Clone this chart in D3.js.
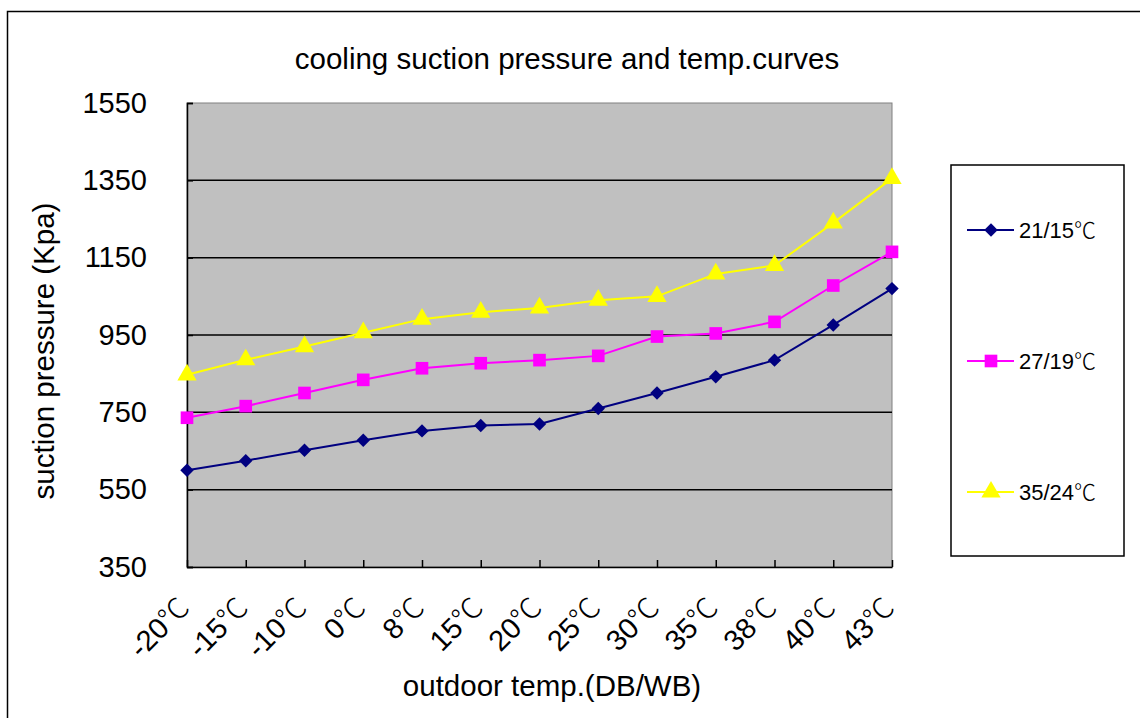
<!DOCTYPE html>
<html>
<head>
<meta charset="utf-8">
<script src="https://cdn.jsdelivr.net/npm/d3@7/dist/d3.min.js"></script>
<style>
  html, body { margin: 0; padding: 0; background: #ffffff; }
  svg { display: block; }
  text { font-family: "Liberation Sans", Arial, "Noto Sans CJK SC", sans-serif; fill: #000; }
  .deg { font-family: "Noto Sans CJK SC", "Noto Sans CJK JP", sans-serif; font-weight: 300; }
</style>
</head>
<body>
<svg id="chart" width="1140" height="718"></svg>
<script>
// ---- data ----
const categories = ["-20℃", "-15℃", "-10℃", "0℃", "8℃", "15℃", "20℃", "25℃", "30℃", "35℃", "38℃", "40℃", "43℃"];
const seriesNames = ["21/15℃", "27/19℃", "35/24℃"];
const series1 = [600, 625, 652, 678, 702, 716, 720, 760, 800, 842, 885, 976, 1070];
const series2 = [736, 766, 800, 834, 864, 877, 885, 896, 946, 954, 984, 1078, 1165];
const series3 = [847, 886, 920, 956, 991, 1009, 1020, 1040, 1050, 1108, 1130, 1240, 1355];
const yTicks = [350, 550, 750, 950, 1150, 1350, 1550];
const titleText = "cooling suction pressure and temp.curves";
const xTitle = "outdoor temp.(DB/WB)";
const yTitle = "suction pressure (Kpa)";

// ---- layout ----
const svg = d3.select("#chart");
const L = 187, T = 103, R = 892, B = 567;
const colors = ["#000080", "#FF00FF", "#FFFF00"];
const shapes = [d3.symbolDiamond2, d3.symbolSquare, d3.symbolTriangle];
const symSizes = [115, 160, 160];

const x = d3.scalePoint().domain(categories).range([L, R]).padding(0);
const y = d3.scaleLinear().domain([350, 1550]).range([B, T]);

// helper: write label with the ℃ sign in a CJK font
function degText(sel, s) {
  const parts = s.split("℃");
  sel.text(null);
  sel.append("tspan").text(parts[0]);
  if (s.includes("℃")) sel.append("tspan").attr("class", "deg").text("℃");
}

// outer frame
svg.append("rect").attr("x", 7.5).attr("y", 11.5).attr("width", 1160).attr("height", 720)
  .attr("fill", "#fff").attr("stroke", "#000").attr("stroke-width", 1.5);

// plot background
svg.append("rect").attr("x", L).attr("y", T).attr("width", R - L).attr("height", B - T)
  .attr("fill", "#C0C0C0").attr("stroke", "#808080").attr("stroke-width", 1);

// gridlines
svg.append("g").selectAll("line").data(yTicks.filter(v => v > 350 && v < 1550)).join("line")
  .attr("x1", L).attr("x2", R).attr("y1", d => y(d)).attr("y2", d => y(d))
  .attr("stroke", "#000").attr("stroke-width", 1.5);

// y axis
const yAxis = svg.append("g").attr("transform", `translate(${L},0)`)
  .call(d3.axisLeft(y).tickValues(yTicks).tickSize(-6).tickPadding(40).tickFormat(d3.format("d")));
yAxis.select(".domain").attr("stroke", "#000").attr("stroke-width", 1.5);
yAxis.selectAll(".tick line").attr("stroke", "#000").attr("stroke-width", 1.5);
yAxis.selectAll(".tick text").attr("font-size", 29).attr("font-family", "Liberation Sans, Arial, sans-serif").attr("fill", "#000");

// x axis
const xAxis = svg.append("g").attr("transform", `translate(0,${B})`)
  .call(d3.axisBottom(x).tickSize(-7).tickSizeOuter(0).tickFormat(""));
xAxis.select(".domain").attr("stroke", "#000").attr("stroke-width", 1.5);
xAxis.selectAll(".tick line").attr("stroke", "#000").attr("stroke-width", 1.5);

// x tick labels (rotated)
svg.append("g").selectAll("text").data(categories).join("text")
  .attr("transform", d => `translate(${x(d) - 10},${B + 28}) rotate(-45)`)
  .attr("text-anchor", "end")
  .attr("dy", "0.7em")
  .attr("font-size", 29)
  .each(function (d) { degText(d3.select(this), d); });

// lines & markers
const allSeries = [series1, series2, series3];
const line = d3.line().x((d, i) => x(categories[i])).y(d => y(d));
allSeries.forEach((s, k) => {
  svg.append("path").datum(s).attr("d", line)
    .attr("fill", "none").attr("stroke", colors[k]).attr("stroke-width", 2);
  svg.append("g").selectAll("path").data(s).join("path")
    .attr("transform", (d, i) => `translate(${x(categories[i])},${y(d)})`)
    .attr("d", d3.symbol().type(shapes[k]).size(symSizes[k]))
    .attr("fill", colors[k]);
});

// title
svg.append("text").attr("x", 567).attr("y", 69).attr("text-anchor", "middle")
  .attr("font-size", 29.5).text(titleText);

// axis titles
svg.append("text").attr("x", 552).attr("y", 696).attr("text-anchor", "middle")
  .attr("font-size", 29.5).text(xTitle);
svg.append("text").attr("transform", `translate(54,351) rotate(-90)`).attr("text-anchor", "middle")
  .attr("font-size", 29.5).text(yTitle);

// legend
const lg = svg.append("g");
lg.append("rect").attr("x", 951).attr("y", 165).attr("width", 173).attr("height", 391)
  .attr("fill", "#fff").attr("stroke", "#000").attr("stroke-width", 1.5);
const legendY = [230, 361, 492];
seriesNames.forEach((name, k) => {
  lg.append("line").attr("x1", 967).attr("x2", 1014).attr("y1", legendY[k]).attr("y2", legendY[k])
    .attr("stroke", colors[k]).attr("stroke-width", 2);
  lg.append("path").attr("transform", `translate(991,${legendY[k]})`)
    .attr("d", d3.symbol().type(shapes[k]).size(symSizes[k])).attr("fill", colors[k]);
  const t = lg.append("text").attr("x", 1019).attr("y", legendY[k]).attr("dy", "0.35em")
    .attr("font-size", 22);
  degText(t, name);
});
</script>
</body>
</html>
